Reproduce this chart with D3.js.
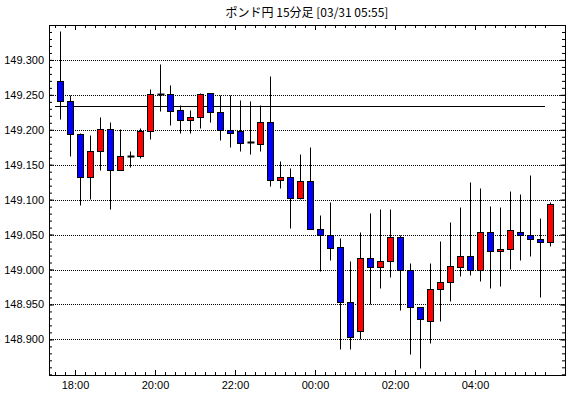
<!DOCTYPE html>
<html>
<head>
<meta charset="utf-8">
<script src="https://cdn.jsdelivr.net/npm/d3@7"></script>
<style>
body { margin: 0; background: #fff; }
</style>
</head>
<body>
<script>
// ローソク足データ (15分足)
var times = ["17:30","17:45","18:00","18:15","18:30","18:45","19:00","19:15","19:30","19:45",
    "20:00","20:15","20:30","20:45","21:00","21:15","21:30","21:45","22:00","22:15",
    "22:30","22:45","23:00","23:15","23:30","23:45","00:00","00:15","00:30","00:45",
    "01:00","01:15","01:30","01:45","02:00","02:15","02:30","02:45","03:00","03:15",
    "03:30","03:45","04:00","04:15","04:30","04:45","05:00","05:15","05:30","05:45"];
var opens  = [149.270,149.241,149.194,149.133,149.169,149.201,149.142,149.162,149.162,149.198,
    149.251,149.251,149.228,149.214,149.218,149.252,149.225,149.199,149.198,149.182,
    149.179,149.211,149.128,149.132,149.103,149.127,149.058,149.049,149.032,148.953,
    148.912,149.017,149.003,149.012,149.046,148.999,148.946,148.927,148.972,148.982,
    149.003,149.019,148.999,149.054,149.027,149.030,149.054,149.050,149.043,149.039];
var highs  = [149.342,149.250,149.195,149.193,149.218,149.211,149.201,149.170,149.202,149.259,
    149.294,149.264,149.236,149.228,149.252,149.252,149.250,149.250,149.242,149.241,
    149.236,149.277,149.155,149.145,149.165,149.175,149.078,149.097,149.045,149.012,
    149.054,149.081,149.087,149.087,149.049,149.010,148.946,149.010,149.041,149.068,
    149.089,149.125,149.117,149.091,149.090,149.112,149.108,149.135,149.074,149.096];
var lows   = [149.215,149.163,149.093,149.101,149.142,149.086,149.142,149.147,149.159,149.187,
    149.227,149.207,149.195,149.195,149.202,149.211,149.185,149.175,149.169,149.166,
    149.170,149.119,149.116,149.059,149.101,149.058,148.998,149.014,148.886,148.886,
    148.900,148.950,148.974,148.989,148.942,148.879,148.859,148.895,148.926,148.955,
    148.990,148.992,148.984,148.974,148.976,149.001,149.013,149.020,148.960,149.033];
var closes = [149.241,149.194,149.133,149.169,149.201,149.142,149.162,149.162,149.198,149.251,
    149.251,149.227,149.214,149.218,149.251,149.225,149.199,149.196,149.181,149.182,
    149.211,149.128,149.132,149.103,149.127,149.058,149.049,149.031,148.953,148.904,
    149.017,149.003,149.012,149.046,148.999,148.946,148.929,148.972,148.982,149.005,
    149.019,148.999,149.054,149.027,149.030,149.056,149.050,149.043,149.039,149.094];
var yTicks = [148.900,148.950,149.000,149.050,149.100,149.150,149.200,149.250,149.300];
var refLine = 149.234;
var title = "ポンド円 15分足 [03/31 05:55]";

var w = 570, h = 398;
var pl = 49, pr = 565, pt = 25, pb = 375;

// 日付 (00:00より前は03/30、以降は03/31)
function toDate(s, i) {
    var p = s.split(":");
    var day = i < 26 ? 30 : 31;
    return new Date(Date.UTC(2025, 2, day, +p[0], +p[1]));
}
var data = times.map(function(t, i) {
    return {t: toDate(t, i), o: opens[i], h: highs[i], l: lows[i], c: closes[i]};
});
var firstT = data[0].t, lastT = data[data.length - 1].t;

var x = d3.scaleUtc()
    .domain([new Date(Date.UTC(2025, 2, 30, 17, 21)), new Date(Date.UTC(2025, 2, 31, 6, 15))])
    .range([pl, pr]);
var y = d3.scaleLinear()
    .domain([148.849, 149.350])
    .range([pb, pt]);

function cx(d) { return Math.round(x(d3.utcMinute.offset(d.t, 7.5))) + 0.5; }
function py(v) { return Math.round(y(v)) + 0.5; }

var svg = d3.select("body").append("svg")
    .attr("width", w)
    .attr("height", h)
    .style("font-family", "'Liberation Sans', Arial, sans-serif");

svg.append("rect").attr("width", w).attr("height", h).attr("fill", "#fff");

// グリッド
svg.append("g")
    .selectAll("line")
    .data(yTicks)
    .enter().append("line")
    .attr("x1", pl).attr("x2", pr)
    .attr("y1", function(d) { return py(d); })
    .attr("y2", function(d) { return py(d); })
    .attr("stroke", "#000")
    .attr("stroke-dasharray", "1,1");

// 基準線
svg.append("line")
    .attr("x1", Math.round(x(firstT)))
    .attr("x2", Math.round(x(lastT)))
    .attr("y1", py(refLine)).attr("y2", py(refLine))
    .attr("stroke", "#000");

// 軸
function styleAxis(g) {
    g.select(".domain").remove();
    g.selectAll("line").attr("stroke", "#000");
    g.selectAll("text").attr("fill", "#000");
    g.attr("font-family", null).attr("font-size", 11);
}

var minorX = d3.utcMinute.every(15).range(firstT, d3.utcMinute.offset(lastT, 1));
var majorX = d3.utcHour.every(2).range(firstT, lastT);

svg.append("g").attr("transform", "translate(0," + pb + ")")
    .call(d3.axisBottom(x).tickValues(minorX).tickSize(-3).tickFormat(""))
    .call(styleAxis);
svg.append("g").attr("transform", "translate(0," + pb + ")")
    .call(d3.axisBottom(x).tickValues(majorX).tickSize(-5).tickPadding(6).tickFormat(d3.utcFormat("%H:%M")))
    .call(styleAxis);
svg.append("g").attr("transform", "translate(0," + pt + ")")
    .call(d3.axisTop(x).tickValues(minorX).tickSize(-3).tickFormat(""))
    .call(styleAxis);
svg.append("g").attr("transform", "translate(0," + pt + ")")
    .call(d3.axisTop(x).tickValues(majorX).tickSize(-5).tickFormat(""))
    .call(styleAxis);

var minorY = d3.range(148.85, 149.351, 0.01);
svg.append("g").attr("transform", "translate(" + pl + ",0)")
    .call(d3.axisLeft(y).tickValues(minorY).tickSize(-3).tickFormat(""))
    .call(styleAxis);
svg.append("g").attr("transform", "translate(" + pl + ",0)")
    .call(d3.axisLeft(y).tickValues(yTicks).tickSize(-5).tickPadding(5).tickFormat(d3.format(".3f")))
    .call(styleAxis);
svg.append("g").attr("transform", "translate(" + pr + ",0)")
    .call(d3.axisRight(y).tickValues(minorY).tickSize(-3).tickFormat(""))
    .call(styleAxis);
svg.append("g").attr("transform", "translate(" + pr + ",0)")
    .call(d3.axisRight(y).tickValues(yTicks).tickSize(-5).tickFormat(""))
    .call(styleAxis);

// 枠
svg.append("rect")
    .attr("x", pl + 0.5).attr("y", pt + 0.5)
    .attr("width", pr - pl).attr("height", pb - pt)
    .attr("fill", "none")
    .attr("stroke", "#000");

// ローソク足
var candle = svg.append("g").selectAll("g")
    .data(data)
    .enter().append("g");

candle.append("line")
    .attr("x1", cx).attr("x2", cx)
    .attr("y1", function(d) { return py(d.h); })
    .attr("y2", function(d) { return py(d.l); })
    .attr("stroke", "#000");

candle.filter(function(d) { return d.o != d.c; })
    .append("rect")
    .attr("x", function(d) { return cx(d) - 3; })
    .attr("y", function(d) { return py(Math.max(d.o, d.c)); })
    .attr("width", 6)
    .attr("height", function(d) { return Math.max(1, py(Math.min(d.o, d.c)) - py(Math.max(d.o, d.c))); })
    .attr("fill", function(d) { return d.c > d.o ? "#ff0000" : "#0000ff"; })
    .attr("stroke", "#000");

candle.filter(function(d) { return d.o == d.c; })
    .append("line")
    .attr("x1", function(d) { return cx(d) - 3; })
    .attr("x2", function(d) { return cx(d) + 4; })
    .attr("y1", function(d) { return py(d.c); })
    .attr("y2", function(d) { return py(d.c); })
    .attr("stroke", "#000")
    .attr("stroke-width", 2);

// タイトル
svg.append("text")
    .attr("x", (pl + pr) / 2)
    .attr("y", 17)
    .attr("text-anchor", "middle")
    .attr("font-family", "'Noto Sans CJK JP', sans-serif")
    .attr("font-size", 12)
    .text(title);
</script>
</body>
</html>
